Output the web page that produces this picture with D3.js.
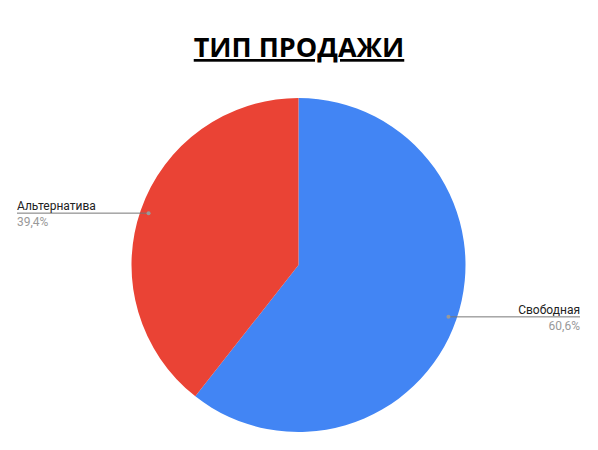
<!DOCTYPE html>
<html>
<head>
<meta charset="utf-8">
<script src="https://cdn.jsdelivr.net/npm/d3@7"></script>
<style>
  body { margin: 0; background: #fff; }
  text { font-family: Roboto, sans-serif; }
</style>
</head>
<body>
<div id="chart"></div>
<script>
'use strict';
const chartTitle = 'ТИП ПРОДАЖИ';
const categories = ['Свободная', 'Альтернатива'];
const values = [60.6, 39.4];
const valueLabels = ['60,6%', '39,4%'];
const colors = ['#4285F4', '#EA4335'];

const width = 598, height = 450;
const cx = 298.5, cy = 265, radius = 167;

const svg = d3.select('#chart').append('svg')
    .attr('width', width)
    .attr('height', height);

svg.append('text')
    .attr('x', 299)
    .attr('y', 57)
    .attr('text-anchor', 'middle')
    .style('font-family', '"Open Sans", sans-serif')
    .style('font-weight', 'bold')
    .style('font-size', '27px')
    .style('text-decoration', 'underline')
    .attr('fill', '#000')
    .text(chartTitle);

const data = categories.map((c, i) => ({ name: c, value: values[i], label: valueLabels[i], color: colors[i] }));

const pie = d3.pie().sort(null).value(d => d.value);
const arc = d3.arc().innerRadius(0).outerRadius(radius);
const arcs = pie(data);

const g = svg.append('g').attr('transform', 'translate(' + cx + ',' + cy + ')');

g.selectAll('path').data(arcs).enter()
    .append('path')
    .attr('d', arc)
    .attr('fill', d => d.data.color);

// label anchor points sit just inside the rim
const labelArc = d3.arc().innerRadius(radius * 0.95).outerRadius(radius * 0.95);

arcs.forEach(d => {
    const p = labelArc.centroid(d);
    const px = cx + p[0], py = cy + p[1];
    const right = p[0] > 0;
    const endX = right ? 580 : 17;
    svg.append('line')
        .attr('x1', px).attr('y1', py)
        .attr('x2', endX).attr('y2', py)
        .attr('stroke', '#777')
        .attr('stroke-width', 1);
    svg.append('circle')
        .attr('cx', px).attr('cy', py)
        .attr('r', 2)
        .attr('fill', '#999');
    svg.append('text')
        .attr('x', endX)
        .attr('y', py - 3)
        .attr('text-anchor', right ? 'end' : 'start')
        .style('font-size', '12px')
        .attr('fill', '#222')
        .text(d.data.name);
    svg.append('text')
        .attr('x', endX)
        .attr('y', py + 13)
        .attr('text-anchor', right ? 'end' : 'start')
        .style('font-size', '12px')
        .attr('fill', '#999')
        .text(d.data.label);
});
</script>
</body>
</html>
